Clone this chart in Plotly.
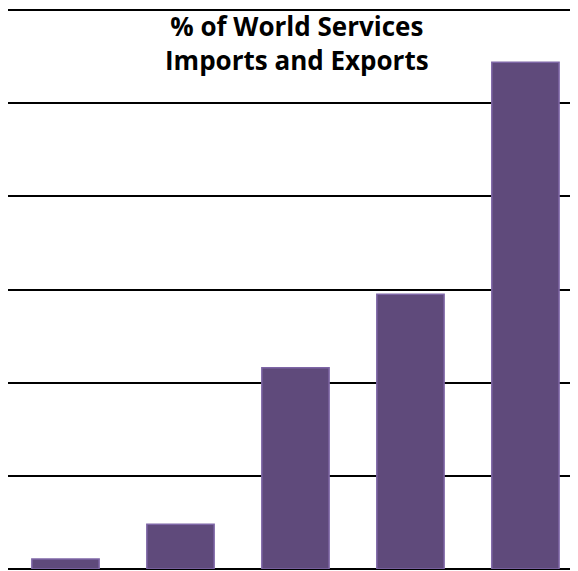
import plotly.graph_objects as go

categories = ["A", "B", "C", "D", "E"]
values = [0.54, 2.4, 10.8, 14.75, 27.2]
title_lines = ["% of World Services", "Imports and Exports"]

fig = go.Figure()
fig.add_trace(go.Bar(
    x=categories, y=values,
    marker=dict(color="#5f4a7b", line=dict(color="#7e66a6", width=1.5)),
    width=0.585,
))

W, H = 570, 563
fig.update_layout(
    width=W, height=H,
    margin=dict(l=0, r=0, t=1, b=2, pad=0),
    plot_bgcolor="white", paper_bgcolor="white",
    showlegend=False,
    xaxis=dict(range=[-0.5, 4.457], showticklabels=False, showgrid=False,
               ticks="", zeroline=False, showline=False),
    yaxis=dict(range=[0, 30.06], dtick=5, tick0=0, showticklabels=False, showgrid=True,
               gridcolor="black", gridwidth=1.5, zeroline=True,
               zerolinecolor="black", zerolinewidth=1.5, ticks=""),
    annotations=[dict(
        text="<b>" + "<br>".join(title_lines) + "</b>",
        x=289 / W, xref="paper", y=1.0, yref="paper",
        xanchor="center", yanchor="top", showarrow=False, yshift=2,
        borderpad=0,
        font=dict(family="Open Sans", size=26, color="black"),
    )],
)
fig.write_html("out.html")
